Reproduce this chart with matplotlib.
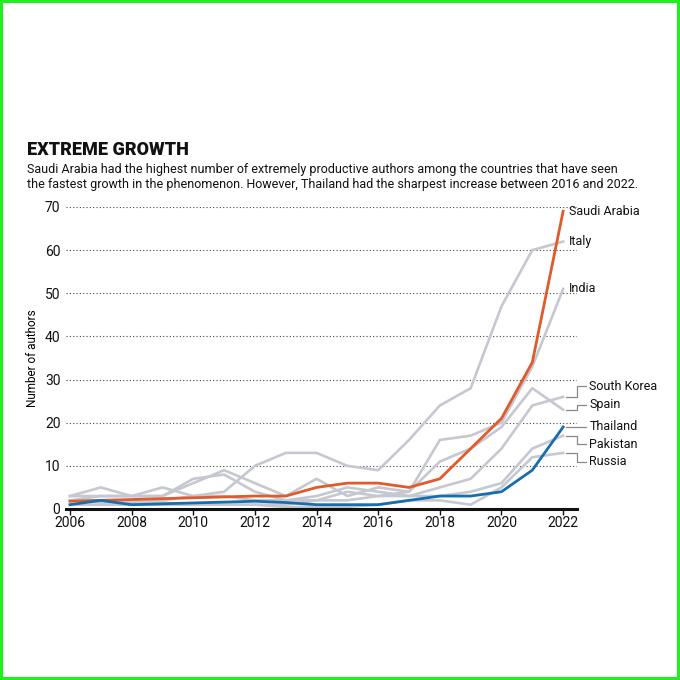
import numpy as np
import matplotlib.pyplot as plt
from matplotlib.patches import Rectangle

# Yearly counts of extremely productive authors
years = list(range(2006, 2023))
saudi_arabia = [1.8, 2, 2.2, 2.4, 2.6, 2.8, 3, 3, 5, 6, 6, 5, 7, 14, 21, 34, 69]
thailand = [1, 2, 1, 1.2, 1.4, 1.6, 1.8, 1.5, 1, 1, 1, 2, 3, 3, 4, 9, 19]
italy = [3, 5, 3, 5, 3, 4, 10, 13, 13, 10, 9, 16, 24, 28, 47, 60, 62]
india = [2, 3, 3, 3, 7, 8, 4, 2, 2, 4, 3, 4, 16, 17, 20, 33, 51]
spain = [3, 3, 3, 3, 6, 9, 6, 3, 7, 3, 5, 4, 11, 14, 19, 28, 23]
south_korea = [2, 2, 2, 2, 3, 3, 2, 2, 3, 5, 4, 3, 5, 7, 14, 24, 26]
pakistan = [1, 1, 1, 1, 1, 1, 1, 1, 2, 2, 3, 3, 3, 4, 6, 14, 17]
russia = [2, 1.5, 1.5, 1.5, 1, 1, 1, 0.5, 0.5, 0.5, 1, 2, 2, 1, 5, 12, 13]

grey_series = {"Italy": italy, "India": india, "South Korea": south_korea,
               "Spain": spain, "Pakistan": pakistan, "Russia": russia}

# label heights at the right edge (data units)
label_y = {"Saudi Arabia": 69, "Italy": 62, "India": 51, "South Korea": 28.4,
           "Spain": 24.2, "Thailand": 19.2, "Pakistan": 15, "Russia": 10.9}
elbow = ["South Korea", "Spain", "Pakistan", "Russia"]

ORANGE = "#e05a2c"
BLUE = "#176ead"
GREY = "#c5c8d0"

plt.rcParams['font.family'] = ['Roboto', 'DejaVu Sans']

fig = plt.figure(figsize=(6.8, 6.8), dpi=100)
ax = fig.add_axes([66 / 680, 1 - 509 / 680, (577 - 66) / 680, (509 - 207) / 680])

for name, vals in grey_series.items():
    ax.plot(years, vals, color=GREY, lw=1.9, clip_on=False, zorder=2)
ax.plot(years, saudi_arabia, color=ORANGE, lw=2.0, clip_on=False, zorder=4)
ax.plot(years, thailand, color=BLUE, lw=2.0, clip_on=False, zorder=4)

ax.set_xlim(2005.87, 2022.45)
ax.set_ylim(0, 70)
ax.set_yticks(range(0, 71, 10))
ax.set_xticks(range(2006, 2023, 2))
ax.grid(axis='y', linestyle=(0, (1, 2)), color='#444444', lw=0.8)
ax.set_axisbelow(True)
for s in ['top', 'right', 'left']:
    ax.spines[s].set_visible(False)
ax.spines['bottom'].set_linewidth(2.2)
ax.spines['bottom'].set_color('#111111')
ax.tick_params(axis='y', length=0, pad=4, labelsize=10, colors='#111111')
ax.tick_params(axis='x', length=4, width=1, pad=1, labelsize=10, colors='#111111')
ax.set_ylabel("Number of authors", fontsize=8.5, labelpad=4)

# right-hand labels with leader lines
ends = {"Saudi Arabia": saudi_arabia[-1], "Italy": italy[-1], "India": india[-1],
        "South Korea": south_korea[-1], "Spain": spain[-1], "Thailand": thailand[-1],
        "Pakistan": pakistan[-1], "Russia": russia[-1]}
for name, ly in label_y.items():
    y0 = ends[name]
    if name in elbow:
        ax.plot([2022.1, 2022.45, 2022.45, 2022.75], [y0, y0, ly, ly],
                color='#888888', lw=0.9, clip_on=False)
        tx = 2022.85
    elif name == "Thailand":
        ax.plot([2022.1, 2022.75], [y0, y0], color='#888888', lw=0.9, clip_on=False)
        tx = 2022.85
    else:
        tx = 2022.2
    ax.text(tx, ly, name, fontsize=9, va='center', ha='left', color='#111111')

fig.text(27 / 680, 1 - 150 / 680, "EXTREME GROWTH", fontsize=13, fontweight='heavy',
         va='center', ha='left', color='#111111')
fig.text(27 / 680, 1 - 177 / 680,
         "Saudi Arabia had the highest number of extremely productive authors among the countries that have seen\n"
         "the fastest growth in the phenomenon. However, Thailand had the sharpest increase between 2016 and 2022.",
         fontsize=9, va='center', ha='left', linespacing=1.25, color='#111111')

# green frame around the picture
fig.patches.append(Rectangle((0.002, 0.002), 0.996, 0.996, transform=fig.transFigure,
                             fill=False, edgecolor='#22ee22', lw=3))

fig.savefig("out.png", dpi=100)
